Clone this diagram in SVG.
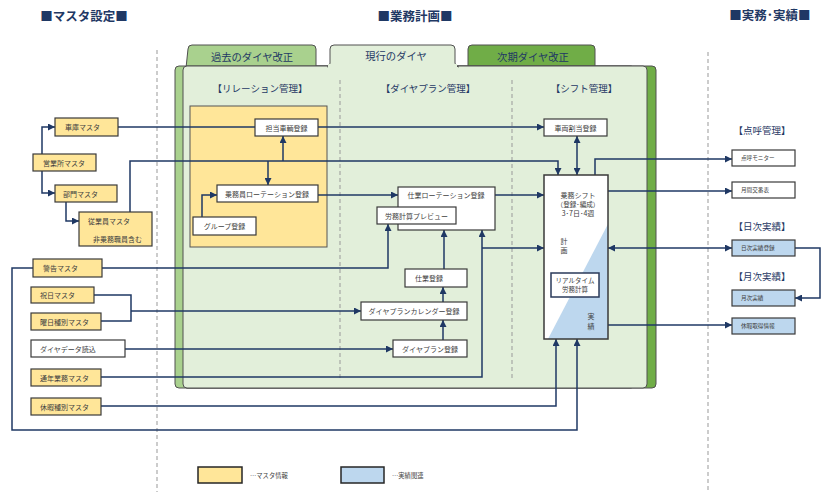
<svg xmlns="http://www.w3.org/2000/svg" width="831" height="492" viewBox="0 0 831 492">
<defs>
<marker id="ah" viewBox="0 0 10 10" refX="10" refY="5" markerWidth="7" markerHeight="7" markerUnits="userSpaceOnUse" orient="auto-start-reverse"><path d="M0,0 L10,5 L0,10 z" fill="#1F3864"/></marker>
<style>
.y{fill:#FFE699;stroke:#3a3a3a;stroke-width:1.2}
.w{fill:#fff;stroke:#3a3a3a;stroke-width:1.2}
.b{fill:#BDD7EE;stroke:#3a3a3a;stroke-width:1.2}
.t{font-family:"Noto Sans CJK JP","Noto Sans",sans-serif;font-size:7px;fill:#404040}
.s{font-family:"Noto Sans CJK JP","Noto Sans",sans-serif;font-size:5.6px;fill:#404040}
.m{text-anchor:middle}
.h{font-family:"Noto Sans CJK JP","Noto Sans",sans-serif;font-size:9.5px;fill:#1F3864;text-anchor:middle}
.ti{font-family:"Noto Sans CJK JP","Noto Sans",sans-serif;font-size:12.5px;font-weight:bold;fill:#1F3864;text-anchor:middle}
.tab{font-family:"Noto Sans CJK JP","Noto Sans",sans-serif;font-size:10.3px;fill:#1F3864;text-anchor:middle}
.c{fill:none;stroke:#1F3864;stroke-width:1.5}
.e{marker-end:url(#ah)}
.d{fill:none;stroke:#999;stroke-width:1;stroke-dasharray:4,3}
.p{stroke:#505050;stroke-width:1}
</style>
</defs>
<rect width="831" height="492" fill="#fff"/>
<!-- titles -->
<text class="ti" x="84" y="21">■マスタ設定■</text>
<text class="ti" x="415" y="21">■業務計画■</text>
<text class="ti" x="770" y="20">■実務･実績■</text>
<!-- outer dashed -->
<line class="d" x1="157" y1="50" x2="157" y2="492"/>
<line class="d" x1="708" y1="52" x2="708" y2="492"/>
<!-- panels -->
<g id="panel-next">
<path class="p" fill="#70AD47" d="M468,68 L468,49 Q468,45 472,45 L591,45 Q595,45 595,49 L595,66"/>
<rect class="p" x="183" y="66" width="473" height="322" rx="4" fill="#70AD47"/>
<text class="tab" x="533" y="61">次期ダイヤ改正</text>
</g>
<g id="panel-past">
<path class="p" fill="#A9D18E" d="M186,68 L188,49 Q188,45 192,45 L312,45 Q316,45 316,49 L316,66"/>
<rect class="p" x="175" y="66" width="460" height="322" rx="4" fill="#A9D18E"/>
<text class="tab" x="252" y="61">過去のダイヤ改正</text>
</g>
<g id="panel-current">
<rect class="p" x="183" y="66" width="464" height="322" rx="4" fill="#E2EFDA"/>
<path class="p" fill="#E2EFDA" d="M327,67 Q330,67 330,63 L330,49 Q330,45 334,45 L451,45 Q455,45 455,49 L455,63 Q455,67 459,67"/>
<rect x="328" y="64" width="129" height="3" fill="#E2EFDA"/>
<text class="tab" x="396" y="60">現行のダイヤ</text>
</g>
<line class="d" x1="340" y1="80" x2="340" y2="378" stroke="#888"/>
<line class="d" x1="512" y1="80" x2="512" y2="378" stroke="#888"/>
<text class="h" x="260" y="92">【リレーション管理】</text>
<text class="h" x="428" y="92">【ダイヤプラン管理】</text>
<text class="h" x="584" y="92">【シフト管理】</text>
<rect x="190" y="106" width="137" height="141" fill="#FFE699" stroke="#555" stroke-width="1"/>
<!-- right headers -->
<text class="h" x="762" y="134">【点呼管理】</text>
<text class="h" x="762" y="230">【日次実績】</text>
<text class="h" x="762" y="280">【月次実績】</text>

<!-- connectors -->
<g id="connectors">
<path class="c e" d="M42,154 V127 H55"/>
<path class="c e" d="M42,171 V193 H55"/>
<path class="c e" d="M66,202 V221 H79"/>
<path class="c" d="M118,127 H255"/>
<path class="c e" d="M318,127 H544"/>
<path class="c e" d="M130,212 V161 H558 V175"/>
<path class="c e" d="M283,161 V136"/>
<path class="c e" d="M268,161 V185"/>
<path class="c e" d="M202,217 V195 H217"/>
<path class="c e" d="M318,195 H398"/>
<path class="c e" d="M495,195 H544"/>
<path class="c e" d="M444,269 V230"/>
<path class="c e" d="M101,377 H482 V230"/>
<path class="c e" d="M482,248 H544"/>
<path class="c e" d="M102,268 H388 V224"/>
<path class="c e" d="M33,268 H12 V430 H577 V339"/>
<path class="c e" d="M101,406 H556 V339"/>
<path class="c" d="M94,295 H131 V321 H101"/>
<path class="c e" d="M131,311 H361"/>
<path class="c e" d="M125,349 H393"/>
<path class="c e" d="M443,340 V320"/>
<path class="c e" d="M443,302 V287"/>
<path class="c e" d="M577,136 V175" marker-start="url(#ah)"/>
<path class="c e" d="M595,175 V159 H732"/>
<path class="c e" d="M608,191 H732"/>
<path class="c e" d="M608,248 H732" marker-start="url(#ah)"/>
<path class="c e" d="M608,325 H732"/>
<path class="c e" d="M795,248 H820 V298 H795"/>
</g>

<!-- left master nodes -->
<g id="n-shako"><rect class="y" x="55" y="118" width="63" height="18"/><text class="t" x="65" y="130">車庫マスタ</text></g>
<g id="n-eigyosho"><rect class="y" x="33" y="154" width="63" height="17"/><text class="t" x="43" y="165.5">営業所マスタ</text></g>
<g id="n-bumon"><rect class="y" x="55" y="185" width="62" height="17"/><text class="t" x="63" y="196.5">部門マスタ</text></g>
<g id="n-jugyoin"><rect class="y" x="79" y="212" width="73" height="34"/><text class="t" x="88" y="224">従業員マスタ</text><text class="t" x="93" y="242">非乗務職員含む</text></g>
<g id="n-keikoku"><rect class="y" x="33" y="259" width="69" height="18"/><text class="t" x="43" y="271">警告マスタ</text></g>
<g id="n-shukujitsu"><rect class="y" x="31" y="287" width="63" height="16"/><text class="t" x="40" y="298">祝日マスタ</text></g>
<g id="n-yobi"><rect class="y" x="31" y="313" width="70" height="17"/><text class="t" x="40" y="324.5">曜日種別マスタ</text></g>
<g id="n-diadata"><rect class="w" x="31" y="340" width="94" height="17"/><text class="t" x="40" y="351.5">ダイヤデータ読込</text></g>
<g id="n-tsunen"><rect class="y" x="31" y="369" width="70" height="17"/><text class="t" x="40" y="380.5">通年業務マスタ</text></g>
<g id="n-kyuka"><rect class="y" x="31" y="398" width="70" height="17"/><text class="t" x="40" y="409.5">休暇種別マスタ</text></g>

<!-- relation nodes -->
<g id="n-tanto"><rect class="w" x="255" y="119" width="63" height="17"/><text class="t m" x="286.5" y="130.5">担当車輌登録</text></g>
<g id="n-jomuin-rot"><rect class="w" x="217" y="185" width="101" height="17"/><text class="t m" x="267" y="196.5">乗務員ローテーション登録</text></g>
<g id="n-group"><rect class="w" x="193" y="217" width="63" height="18"/><text class="t m" x="224.5" y="229">グループ登録</text></g>

<!-- dia plan nodes -->
<g id="n-shiwake-rot"><rect class="w" x="398" y="187" width="97" height="43"/><text class="t m" x="446" y="198">仕業ローテーション登録</text></g>
<g id="n-romu-preview"><rect class="w" x="377" y="207" width="79" height="17"/><text class="t m" x="416.5" y="218.5">労務計算プレビュー</text></g>
<g id="n-shiwake"><rect class="w" x="405" y="269" width="62" height="18"/><text class="t" x="415" y="281">仕業登録</text></g>
<g id="n-calendar"><rect class="w" x="361" y="302" width="106" height="18"/><text class="t m" x="414" y="314">ダイヤプランカレンダー登録</text></g>
<g id="n-diaplan"><rect class="w" x="393" y="340" width="74" height="17"/><text class="t m" x="430" y="351.5">ダイヤプラン登録</text></g>

<!-- shift nodes -->
<g id="n-sharyo"><rect class="w" x="544" y="119" width="63" height="17"/><text class="t m" x="575.5" y="130.5">車両割当登録</text></g>
<g id="n-shift">
<rect x="544" y="175" width="64" height="164" fill="#fff"/>
<polygon points="608,224 608,339 548,339" fill="#BDD7EE"/>
<rect x="544" y="175" width="64" height="164" fill="none" stroke="#3a3a3a" stroke-width="1.5"/>
<text class="t m" x="578" y="198">乗務シフト</text>
<text class="t m" x="578" y="207" style="font-size:6.6px">（登録･編成）</text>
<text class="t m" x="578" y="216">3･7日･4週</text>
<text class="t m" x="564" y="243.5">計</text>
<text class="t m" x="564" y="252.5">画</text>
<rect x="551" y="273" width="48" height="24" fill="#fff" stroke="#2a3a5a" stroke-width="1.5"/>
<text class="t m" x="575" y="283" style="font-size:6.5px">リアルタイム</text>
<text class="t m" x="575" y="292" style="font-size:6.5px">労務計算</text>
<text class="t m" x="591" y="318.5">実</text>
<text class="t m" x="591" y="328.5">績</text>
</g>

<!-- right nodes -->
<g id="n-tenko"><rect class="w" x="732" y="150" width="63" height="16"/><text class="s" x="741" y="160">点呼モニター</text></g>
<g id="n-gekkan"><rect class="w" x="732" y="182" width="63" height="16"/><text class="s" x="741" y="192">月間交番表</text></g>
<g id="n-nichiji"><rect class="b" x="732" y="240" width="63" height="16"/><text class="s" x="741" y="250">日次実績登録</text></g>
<g id="n-getsuji"><rect class="b" x="732" y="290" width="63" height="16"/><text class="s" x="741" y="300">月次実績</text></g>
<g id="n-kyuka-info"><rect class="b" x="732" y="318" width="63" height="16"/><text class="s" x="741" y="328">休暇取得情報</text></g>

<!-- legend -->
<g id="legend">
<rect x="198" y="467" width="44" height="16" fill="#FFE699" stroke="#262626" stroke-width="1.5"/>
<text class="s" x="250" y="478" style="font-size:6.3px">…マスタ情報</text>
<rect x="341" y="467" width="43" height="16" fill="#BDD7EE" stroke="#262626" stroke-width="1.5"/>
<text class="s" x="392" y="478" style="font-size:6.3px">…実績関連</text>
</g>
</svg>
